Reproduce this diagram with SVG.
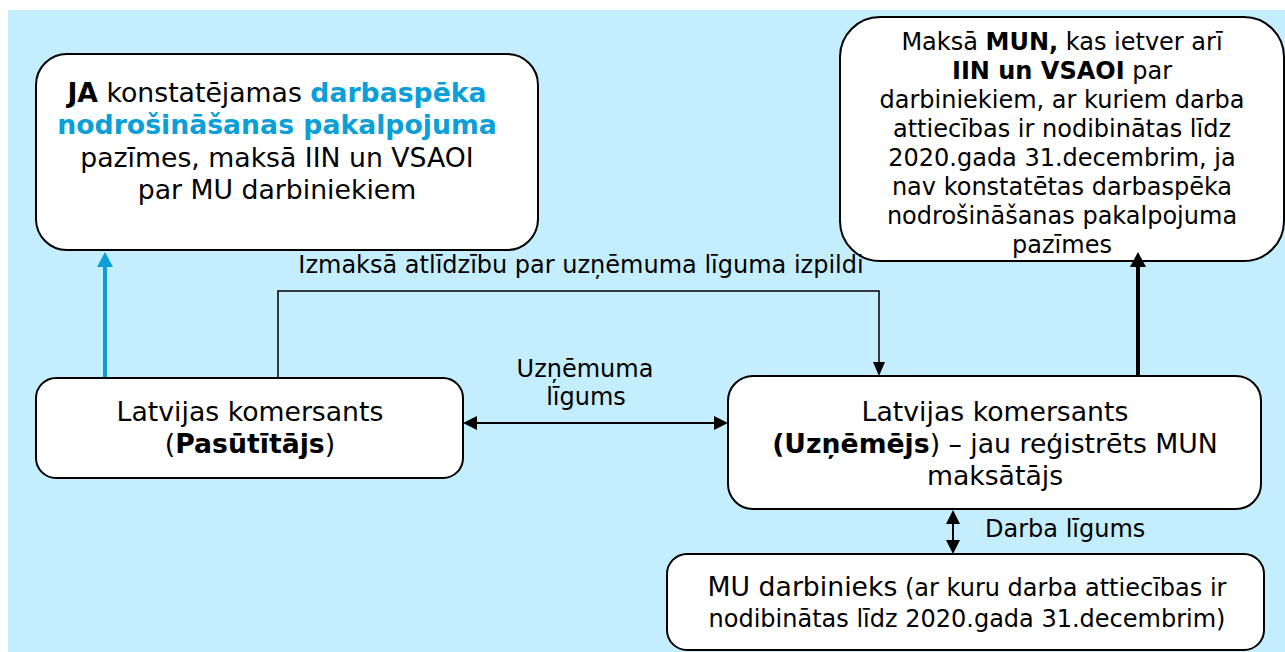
<svg xmlns="http://www.w3.org/2000/svg" width="1285" height="652" viewBox="0 0 1285 652">
<style>
text{font-family:"DejaVu Sans",Verdana,sans-serif;fill:#000;text-anchor:middle}
.box{fill:#fff;stroke:#000;stroke-width:2}
.b{font-weight:bold}
.blue{fill:#0A9FD8}
.t27{font-size:26.7px}
.t24{font-size:24px}
.con{fill:none;stroke:#000}
</style>
<defs>
<marker id="ahBlue" markerUnits="userSpaceOnUse" markerWidth="15" markerHeight="16" viewBox="0 0 15 16" refX="0" refY="8" orient="auto"><path d="M0,0 L15,8 L0,16 z" fill="#0A9FD8"/></marker>
<marker id="ahBig" markerUnits="userSpaceOnUse" markerWidth="15" markerHeight="16" viewBox="0 0 15 16" refX="0" refY="8" orient="auto"><path d="M0,0 L15,8 L0,16 z" fill="#000"/></marker>
<marker id="ahSmall" markerUnits="userSpaceOnUse" markerWidth="14" markerHeight="12" viewBox="0 0 14 12" refX="0" refY="6" orient="auto"><path d="M0,0 L14,6 L0,12 z" fill="#000"/></marker>
<marker id="ahDbl" markerUnits="userSpaceOnUse" markerWidth="14" markerHeight="14" viewBox="0 0 14 14" refX="0" refY="7" orient="auto-start-reverse"><path d="M0,0 L14,7 L0,14 z" fill="#000"/></marker>
</defs>
<rect x="8" y="10" width="1277" height="642" fill="#C4EEFE"/>

<g id="node-ja">
<rect class="box" x="36" y="54" width="502" height="196" rx="31" ry="31"/>
<text class="t27" x="277" y="102"><tspan class="b">JA</tspan> konstatējamas <tspan class="b blue">darbaspēka</tspan></text>
<text class="t27 b blue" x="277" y="134">nodrošināšanas pakalpojuma</text>
<text class="t27" x="277" y="167">pazīmes, maksā IIN un VSAOI</text>
<text class="t27" x="277" y="199">par MU darbiniekiem</text>
</g>

<g id="node-mun">
<rect class="box" x="840" y="17" width="444" height="244" rx="40" ry="40"/>
<text class="t24" x="1062" y="50">Maksā <tspan class="b">MUN,</tspan> kas ietver arī</text>
<text class="t24" x="1062" y="79"><tspan class="b">IIN un VSAOI</tspan> par</text>
<text class="t24" x="1062" y="108">darbiniekiem, ar kuriem darba</text>
<text class="t24" x="1062" y="137">attiecības ir nodibinātas līdz</text>
<text class="t24" x="1062" y="166">2020.gada 31.decembrim, ja</text>
<text class="t24" x="1062" y="195">nav konstatētas darbaspēka</text>
<text class="t24" x="1062" y="224">nodrošināšanas pakalpojuma</text>
<text class="t24" x="1062" y="253">pazīmes</text>
</g>

<g id="node-pasutitajs">
<rect class="box" x="36" y="378" width="427" height="100" rx="20" ry="20"/>
<text class="t27" x="250" y="421">Latvijas komersants</text>
<text class="t27" x="250" y="453">(<tspan class="b">Pasūtītājs</tspan>)</text>
</g>

<g id="node-uznemejs">
<rect class="box" x="728" y="376" width="533" height="133" rx="25" ry="25"/>
<text class="t27" x="995" y="421">Latvijas komersants</text>
<text class="t27" x="995" y="453"><tspan class="b">(Uzņēmējs</tspan>) – jau reģistrēts MUN</text>
<text class="t27" x="995" y="485">maksātājs</text>
</g>

<g id="node-mu">
<rect class="box" x="667" y="554" width="597" height="96" rx="20" ry="20"/>
<text class="t24" x="967" y="596"><tspan class="t27">MU darbinieks</tspan> (ar kuru darba attiecības ir</text>
<text class="t24" x="967" y="627">nodibinātas līdz 2020.gada 31.decembrim)</text>
</g>

<g id="connectors">
<line x1="105" y1="377" x2="105" y2="267" stroke="#0A9FD8" stroke-width="4" marker-end="url(#ahBlue)"/>
<line x1="1138" y1="375" x2="1138" y2="267" stroke="#000" stroke-width="4" marker-end="url(#ahBig)"/>
<polyline class="con" points="278,377 278,291 879,291 879,362" stroke-width="1.5" marker-end="url(#ahSmall)"/>
<line class="con" x1="477" y1="423" x2="714" y2="423" stroke-width="2" marker-start="url(#ahDbl)" marker-end="url(#ahDbl)"/>
<line class="con" x1="953" y1="524" x2="953" y2="540" stroke-width="2" marker-start="url(#ahDbl)" marker-end="url(#ahDbl)"/>
<text class="t24" x="581" y="273">Izmaksā atlīdzību par uzņēmuma līguma izpildi</text>
<text class="t24" x="585" y="377">Uzņēmuma</text>
<text class="t24" x="586" y="405">līgums</text>
<text class="t24" x="985" y="537" style="text-anchor:start">Darba līgums</text>
</g>
</svg>
